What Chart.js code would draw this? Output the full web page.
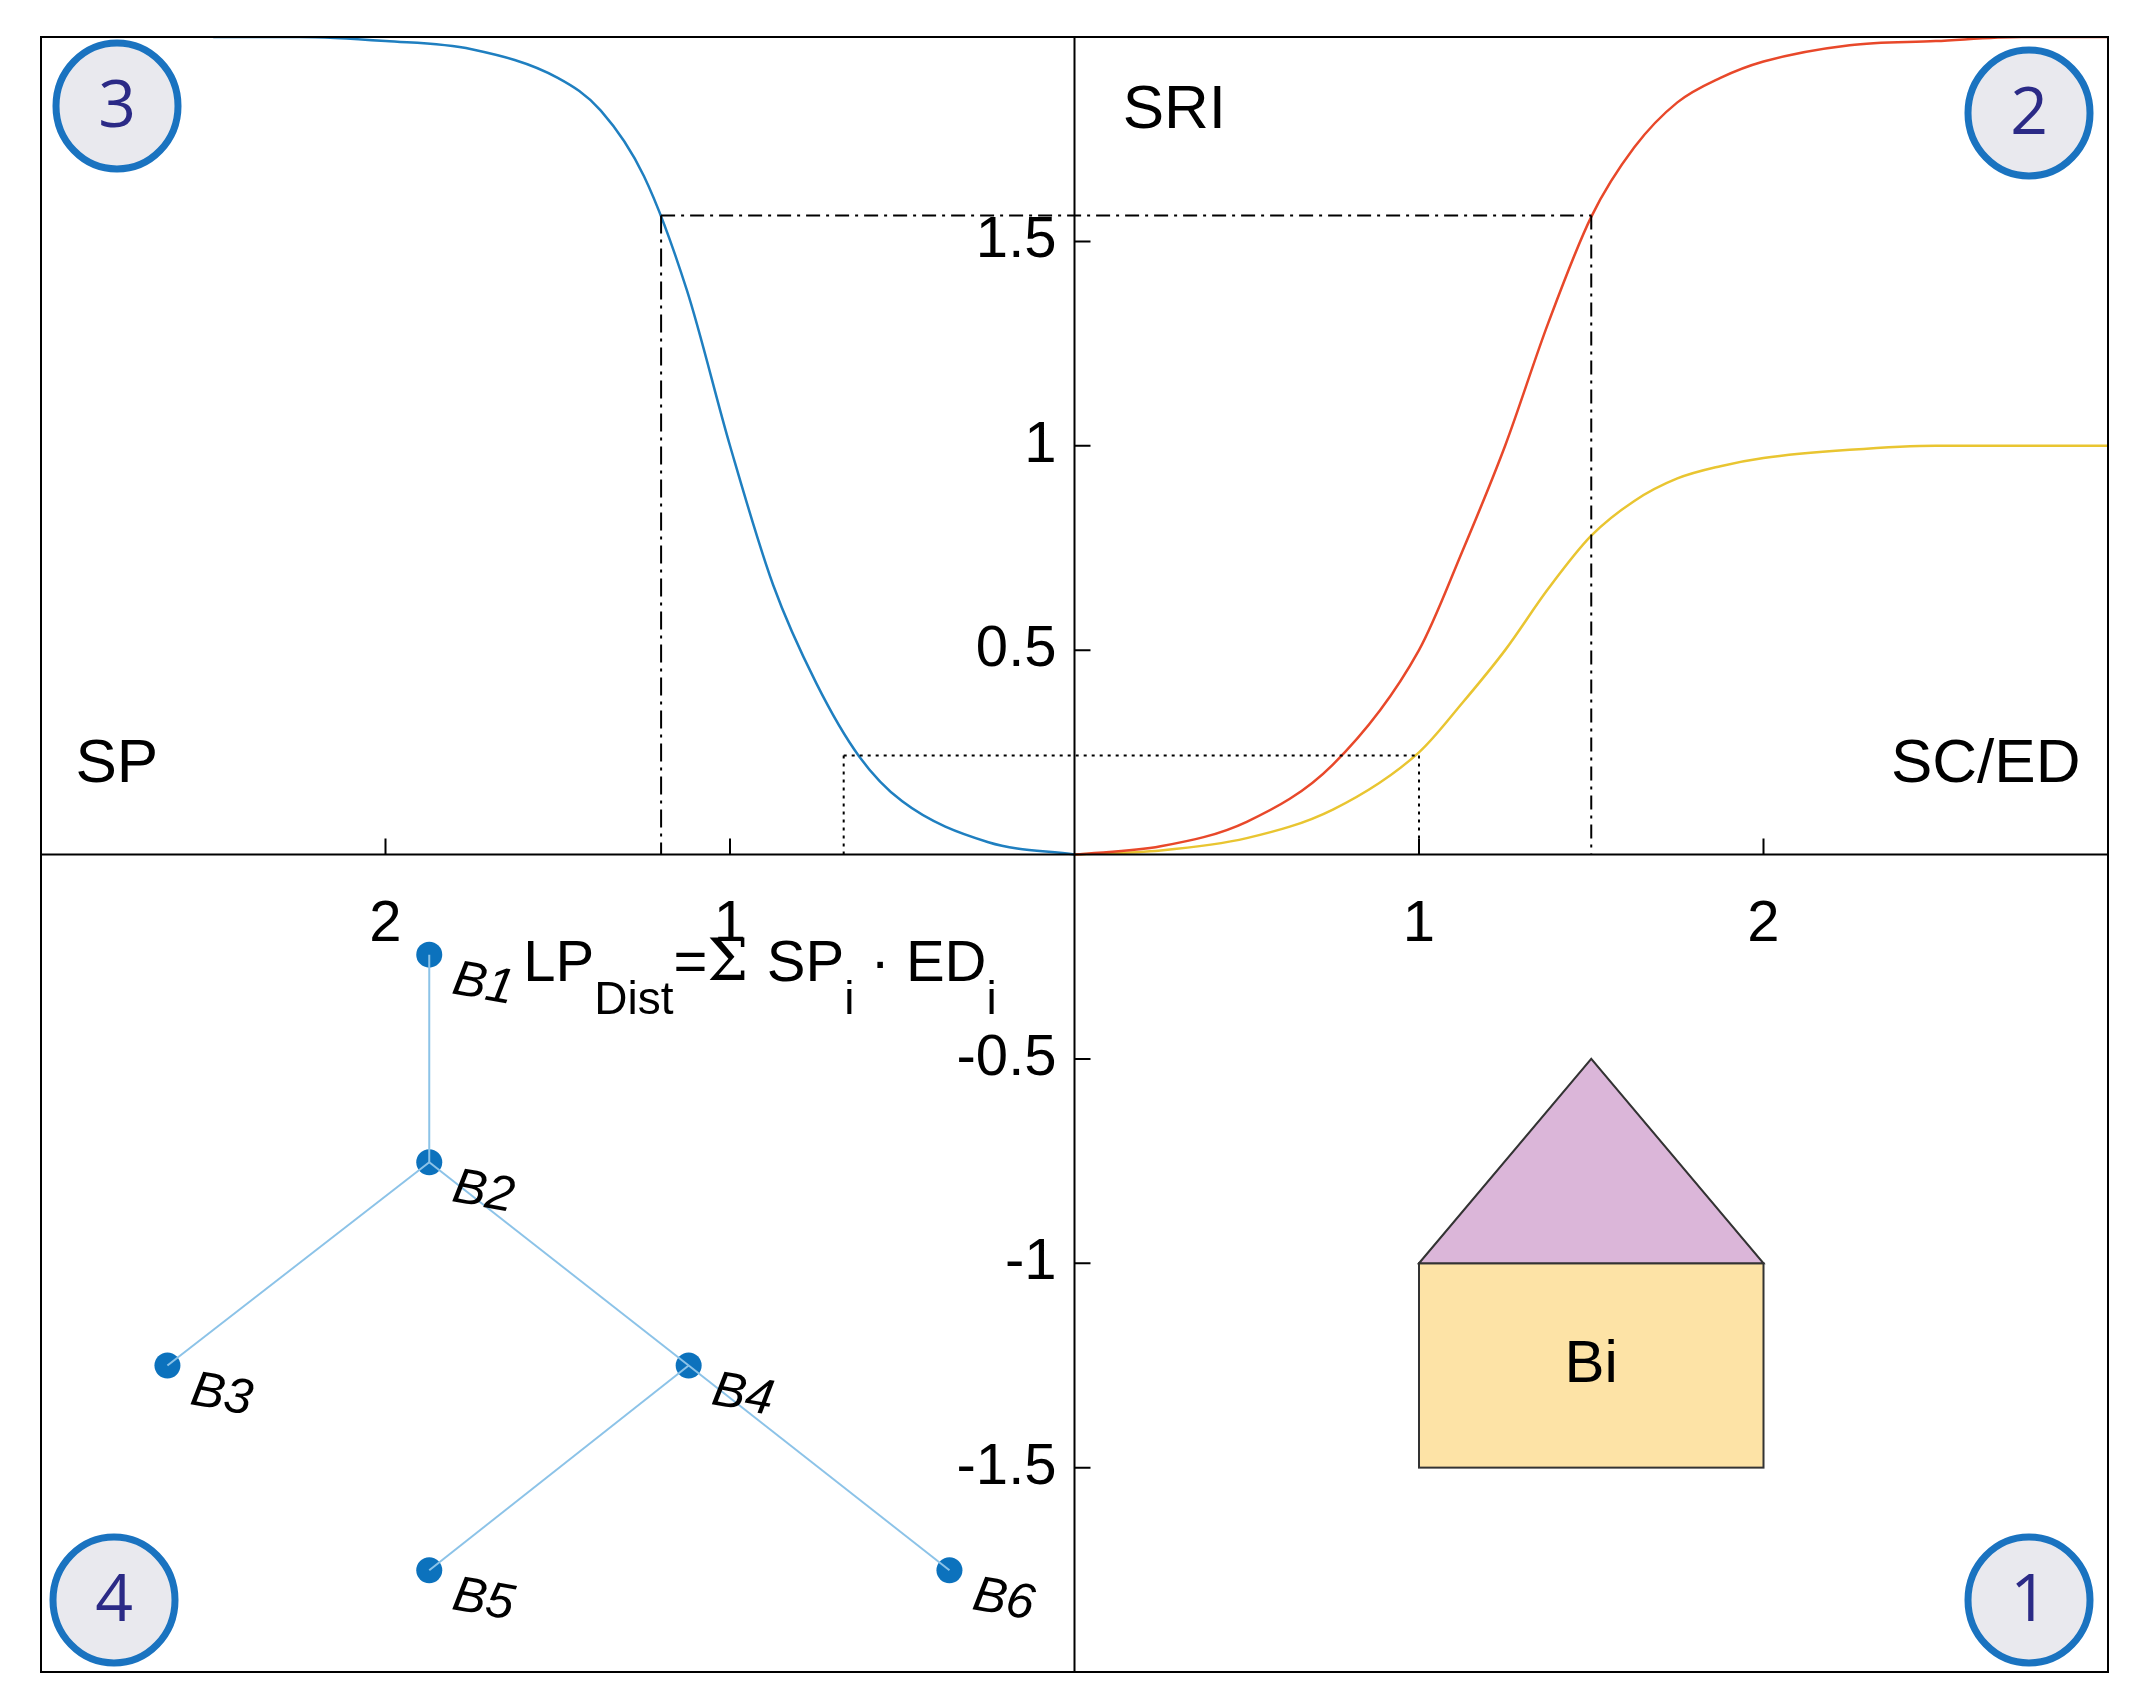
<!DOCTYPE html>
<html>
<head>
<meta charset="utf-8">
<script src="https://cdn.jsdelivr.net/npm/chart.js@4/dist/chart.umd.min.js"></script>
<style>
  html, body { margin: 0; background: #fff; }
  #wrap { width: 2147px; height: 1707px; }
</style>
</head>
<body>
<div id="wrap"><canvas id="fig"></canvas></div>
<script>
/* ===============================
   DATA
================================ */
const sriX   = [0, 0.25, 0.5, 0.75, 1, 1.125, 1.25, 1.375, 1.5, 1.625, 1.75, 1.875, 2, 2.25, 2.5, 2.75, 3];
const sriRed = [0, 0.02, 0.08, 0.22, 0.5, 0.74, 1.0, 1.3, 1.56, 1.73, 1.84, 1.9, 1.94, 1.98, 1.99, 2.0, 2.0];
const sriYel = [0, 0.01, 0.04, 0.11, 0.25, 0.37, 0.5, 0.65, 0.78, 0.865, 0.92, 0.95, 0.97, 0.99, 1.0, 1.0, 1.0];
const spX    = [-2.5, -2.25, -2, -1.75, -1.5, -1.375, -1.25, -1.125, -1, -0.875, -0.75, -0.625, -0.5, -0.25, 0];
const spBlue = [2.0, 2.0, 1.99, 1.97, 1.9, 1.82, 1.66, 1.38, 1.0, 0.66, 0.42, 0.24, 0.13, 0.03, 0];

const xTicks = [-2, -1, 1, 2];
const xTickLabels = ["2", "1", "1", "2"];
const yTicks = [1.5, 1, 0.5, -0.5, -1, -1.5];
const yTickLabels = ["1.5", "1", "0.5", "-0.5", "-1", "-1.5"];

const nodeNames = ["B1", "B2", "B3", "B4", "B5", "B6"];
const nodeX = [-1.873, -1.873, -2.633, -1.12, -1.873, -0.363];
const nodeY = [-0.245, -0.753, -1.25, -1.25, -1.751, -1.751];
const edges = [[0, 1], [1, 2], [1, 3], [3, 4], [3, 5]];

const guideHi = { x1: -1.2, x2: 1.5, y: 1.563 };
const guideLo = { x1: -0.67, x2: 1.0, y: 0.242 };

const houseX = [1, 2];
const houseY = [-1, -1.5];
const roofTop = [1.5, -0.5];

/* ===============================
   DATASETS
================================ */
const pts = (xs, ys) => xs.map((x, i) => ({ x: x, y: ys[i] }));
const curve = (data, color) => ({
  data, showLine: true, borderColor: color, borderWidth: 2.5,
  pointRadius: 0, cubicInterpolationMode: "monotone"
});
const guide = (data, dash) => ({
  data, showLine: true, borderColor: "#000", borderWidth: 2,
  borderDash: dash, pointRadius: 0
});
const DASHDOT = [14, 6, 3, 6];
const DOT = [3, 5];

const datasets = [
  guide([{ x: guideHi.x1, y: guideHi.y }, { x: guideHi.x2, y: guideHi.y }], DASHDOT),
  guide([{ x: guideHi.x1, y: guideHi.y }, { x: guideHi.x1, y: 0 }], [18, 6, 3, 6]),
  guide([{ x: guideHi.x2, y: guideHi.y }, { x: guideHi.x2, y: 0 }], DASHDOT),
  guide([{ x: guideLo.x1, y: guideLo.y }, { x: guideLo.x2, y: guideLo.y }], DOT),
  guide([{ x: guideLo.x1, y: guideLo.y }, { x: guideLo.x1, y: 0 }], DOT),
  guide([{ x: guideLo.x2, y: guideLo.y }, { x: guideLo.x2, y: 0 }], DOT),
  curve(pts(sriX, sriRed), "#e8482a"),
  curve(pts(sriX, sriYel), "#e9c531"),
  curve(pts(spX, spBlue), "#1f7fc0")
];
edges.forEach(([a, b]) => datasets.push({
  data: [{ x: nodeX[a], y: nodeY[a] }, { x: nodeX[b], y: nodeY[b] }],
  showLine: true, borderColor: "#8cc3e8", borderWidth: 2, pointRadius: 0
}));
datasets.push({
  data: pts(nodeX, nodeY), showLine: false,
  pointRadius: 13, pointBackgroundColor: "#0c72bd", pointBorderWidth: 0
});

/* ===============================
   DECORATION PLUGIN
================================ */
const decor = {
  id: "decor",
  beforeDatasetsDraw(c) {
    const { ctx, scales: { x, y } } = c;
    ctx.save();
    // house
    const hx1 = x.getPixelForValue(houseX[0]), hx2 = x.getPixelForValue(houseX[1]);
    const hy1 = y.getPixelForValue(houseY[0]), hy2 = y.getPixelForValue(houseY[1]);
    ctx.lineWidth = 2; ctx.strokeStyle = "#333";
    ctx.fillStyle = "#fde3a6";
    ctx.fillRect(hx1, hy1, hx2 - hx1, hy2 - hy1);
    ctx.strokeRect(hx1, hy1, hx2 - hx1, hy2 - hy1);
    ctx.beginPath();
    ctx.moveTo(hx1, hy1);
    ctx.lineTo(x.getPixelForValue(roofTop[0]), y.getPixelForValue(roofTop[1]));
    ctx.lineTo(hx2, hy1);
    ctx.closePath();
    ctx.fillStyle = "#dbb6d9"; ctx.fill(); ctx.stroke();
    ctx.fillStyle = "#000"; ctx.font = "60px Arial, 'Liberation Sans'";
    ctx.textAlign = "center"; ctx.textBaseline = "middle";
    ctx.fillText("Bi", x.getPixelForValue(1.5), y.getPixelForValue(-1.25));
    ctx.restore();
  },
  afterDraw(c) {
    const { ctx, chartArea: a, scales: { x, y } } = c;
    const x0 = x.getPixelForValue(0), y0 = y.getPixelForValue(0);
    ctx.save();
    // frame + centre axes
    ctx.strokeStyle = "#000"; ctx.lineWidth = 2;
    ctx.strokeRect(a.left, a.top, a.right - a.left, a.bottom - a.top);
    ctx.beginPath();
    ctx.moveTo(x0, a.top); ctx.lineTo(x0, a.bottom);
    ctx.moveTo(a.left, y0); ctx.lineTo(a.right, y0);
    xTicks.forEach(v => { const p = x.getPixelForValue(v); ctx.moveTo(p, y0); ctx.lineTo(p, y0 - 16); });
    yTicks.forEach(v => { const p = y.getPixelForValue(v); ctx.moveTo(x0, p); ctx.lineTo(x0 + 16, p); });
    ctx.stroke();
    // tick labels
    ctx.fillStyle = "#000"; ctx.font = "58px Arial, 'Liberation Sans'";
    ctx.textAlign = "center"; ctx.textBaseline = "middle";
    xTicks.forEach((v, i) => ctx.fillText(xTickLabels[i], x.getPixelForValue(v), y0 + 70));
    ctx.textAlign = "right";
    yTicks.forEach((v, i) => ctx.fillText(yTickLabels[i], x0 - 18, y.getPixelForValue(v)));
    // axis titles
    ctx.font = "62px Arial, 'Liberation Sans'";
    ctx.textAlign = "left";
    ctx.fillText("SRI", x.getPixelForValue(0.14), y.getPixelForValue(1.82));
    ctx.fillText("SP", x.getPixelForValue(-2.9), y.getPixelForValue(0.22));
    ctx.textAlign = "right";
    ctx.fillText("SC/ED", x.getPixelForValue(2.92), y.getPixelForValue(0.22));
    // formula
    const fy = y.getPixelForValue(-0.27);
    let fx = x.getPixelForValue(-1.6);
    ctx.textAlign = "left";
    const seg = (t, dy, size) => {
      ctx.font = size + "px Arial, 'Liberation Sans'";
      ctx.fillText(t, fx, fy + dy);
      fx += ctx.measureText(t).width;
    };
    seg("LP", 0, 58); seg("Dist", 36, 46); seg("=", 0, 58);
    ctx.font = "58px 'DejaVu Serif', serif"; ctx.fillText("Σ", fx, fy); fx += ctx.measureText("Σ ").width;
    seg("SP", 0, 58); seg("i", 36, 46); seg(" · ED", 0, 58); seg("i", 36, 46);
    // node labels
    ctx.font = "italic 50px Arial, 'Liberation Sans'";
    nodeNames.forEach((n, i) => {
      ctx.save();
      ctx.translate(x.getPixelForValue(nodeX[i]) + 24, y.getPixelForValue(nodeY[i]) + 25);
      ctx.rotate(0.18);
      ctx.fillText(n, 0, 0);
      ctx.restore();
    });
    // quadrant badges
    const badges = [["3", a.left + 76, a.top + 69], ["2", a.right - 79, a.top + 76],
                    ["4", a.left + 73, a.bottom - 72], ["1", a.right - 79, a.bottom - 72]];
    badges.forEach(([t, cx, cy]) => {
      ctx.beginPath();
      ctx.ellipse(cx, cy, 61, 63, 0, 0, Math.PI * 2);
      ctx.fillStyle = "#e9e9ee"; ctx.fill();
      ctx.lineWidth = 7; ctx.strokeStyle = "#1a73c0"; ctx.stroke();
      ctx.fillStyle = "#2b2a86"; ctx.font = "66px 'Open Sans', Arial";
      ctx.textAlign = "center"; ctx.textBaseline = "middle";
      ctx.fillText(t, cx, cy + 2);
    });
    ctx.restore();
  }
};

/* ===============================
   CHART
================================ */
new Chart(document.getElementById("fig"), {
  type: "scatter",
  data: { datasets },
  options: {
    responsive: true, maintainAspectRatio: false, animation: false,
    layout: { padding: { left: 41, top: 37, right: 39, bottom: 35 } },
    plugins: { legend: { display: false }, tooltip: { enabled: false } },
    scales: {
      x: { type: "linear", min: -3, max: 3, display: false },
      y: { type: "linear", min: -2, max: 2, display: false }
    }
  },
  plugins: [decor]
});
</script>
</body>
</html>
